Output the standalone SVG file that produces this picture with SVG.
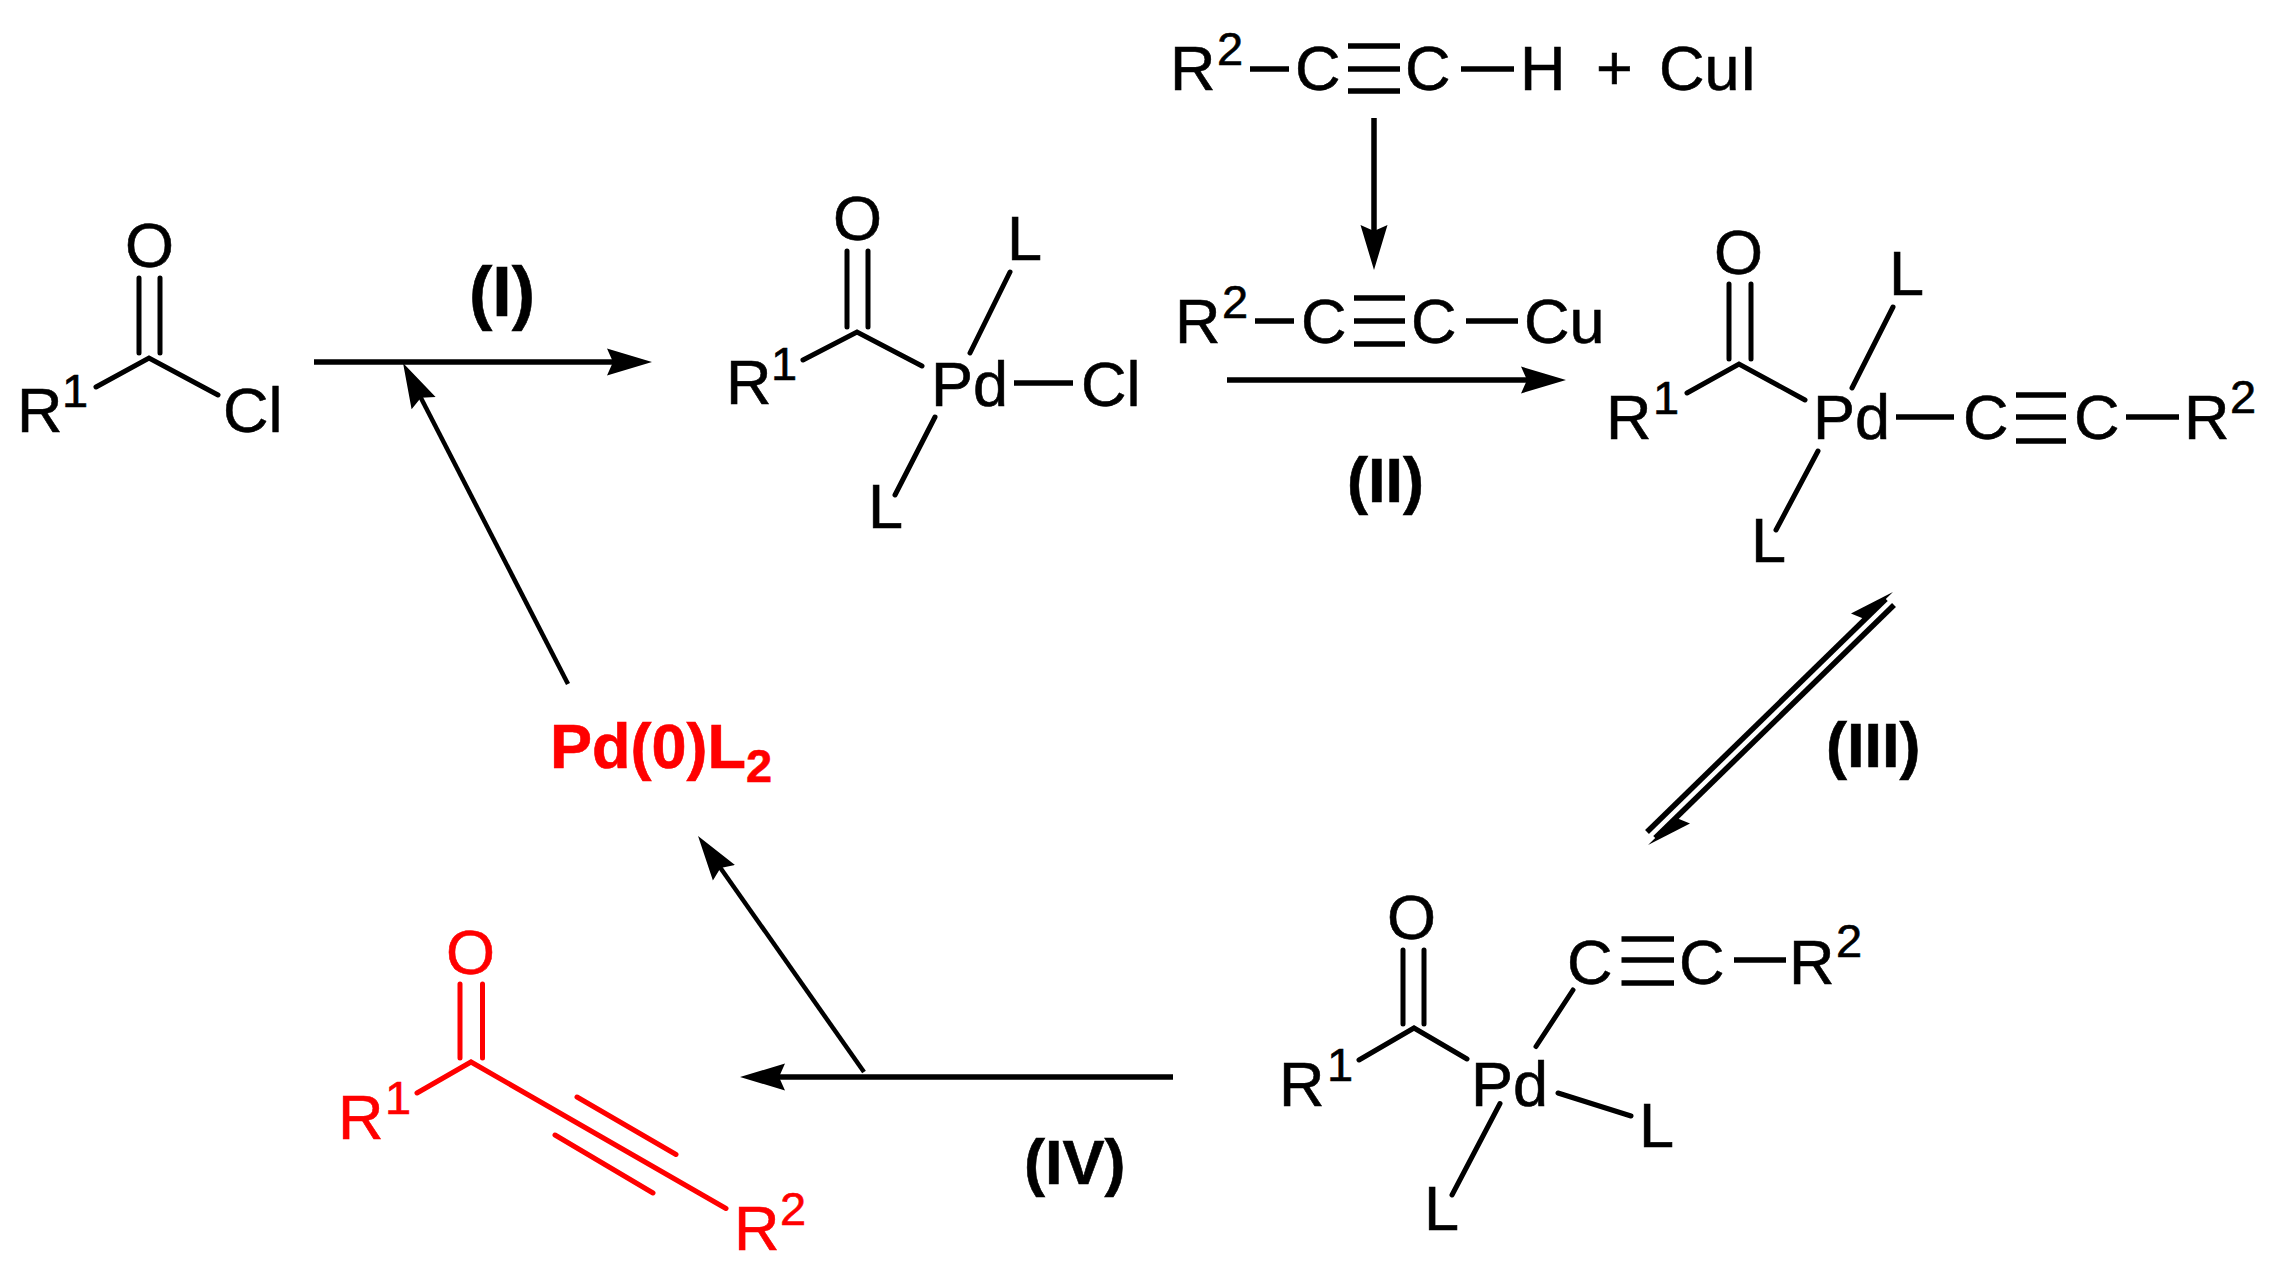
<svg xmlns="http://www.w3.org/2000/svg" width="2270" height="1276" viewBox="0 0 2270 1276">
<style>
text{font-family:"Liberation Sans",Arial,sans-serif;font-size:63px;fill:#000;stroke:#000;stroke-width:.6}
.s{font-size:47px}
.b{font-weight:bold}
.big{font-size:70px}
.red text{fill:#f00;stroke:#f00}
.bond{stroke:#000;stroke-width:5;stroke-linecap:round;fill:none}
.red .bond{stroke:#f00}
.hb{stroke-width:5.500;stroke-linecap:butt}
.arr{stroke:#000;stroke-width:5.500;fill:none}
.thin{stroke-width:4.500}
</style>
<defs>
<marker id="ah" markerUnits="userSpaceOnUse" markerWidth="50" markerHeight="30" refX="35" refY="15" orient="auto" viewBox="0 0 50 30"><path d="M45 15L0 1.500L6 15L0 28.500Z" fill="#000"/></marker>
<marker id="hh" markerUnits="userSpaceOnUse" markerWidth="50" markerHeight="30" refX="35" refY="15" orient="auto" viewBox="0 0 50 30"><path d="M45 15L0 1L6 15Z" fill="#000"/></marker>
</defs>
<g id="connectors">
<path class="arr" d="M314 362H642" marker-end="url(#ah)"/>
<path class="arr thin" d="M568 684L407.600 372" marker-end="url(#ah)"/>
<path class="arr" d="M1374 118V260" marker-end="url(#ah)"/>
<path class="arr" d="M1227 380H1556" marker-end="url(#ah)"/>
<path class="arr" d="M1647 832L1885.800 599" marker-end="url(#hh)"/>
<path class="arr" d="M1894 605L1655.200 838" marker-end="url(#hh)"/>
<path class="arr" d="M1173 1077H750" marker-end="url(#ah)"/>
<path class="arr thin" d="M864 1072L703.800 844.200" marker-end="url(#ah)"/>
</g>
<g id="acid-chloride">
<path class="bond" d="M96 387L149 358L218 395M139 278V353M160 278V353"/>
<text x="17" y="432">R</text><text class="s" x="62" y="407">1</text>
<text x="125" y="267">O</text><text x="223" y="432">Cl</text>
</g>
<g id="label-i"><text class="b big" x="469" y="316">(I)</text></g>
<g id="pd-chloride">
<path class="bond" d="M803 360L857 332L922 366M847 251V327M868 251V327M1010 272L970 353M935 417L895 495"/>
<path class="bond hb" d="M1014 383H1073"/>
<text x="726" y="404">R</text><text class="s" x="771" y="380">1</text>
<text x="833" y="240">O</text><text x="1007" y="260">L</text>
<text x="931" y="406">Pd</text><text x="1081" y="406">Cl</text><text x="868" y="528">L</text>
</g>
<g id="alkyne">
<path class="bond hb" d="M1250 69H1289M1348 46H1400M1348 69H1400M1348 91H1400M1461 69H1514"/>
<text x="1170" y="90">R</text><text class="s" x="1217" y="65">2</text>
<text x="1295" y="90">C</text><text x="1405" y="90">C</text><text x="1520" y="90">H</text>
<text x="1596" y="90">+</text><text x="1659" y="90">CuI</text>
</g>
<g id="copper-acetylide">
<path class="bond hb" d="M1255 321H1294M1354 298H1405M1354 321H1405M1354 344H1405M1466 321H1518"/>
<text x="1175" y="343">R</text><text class="s" x="1222" y="318">2</text>
<text x="1301" y="343">C</text><text x="1411" y="343">C</text><text x="1524" y="343">Cu</text>
</g>
<g id="label-ii"><text class="b" x="1347" y="502">(II)</text></g>
<g id="pd-alkynyl-trans">
<path class="bond" d="M1687 393L1739 364L1805 400M1729 284V359M1751 284V359M1893 307L1852 388M1818 451L1776 530"/>
<path class="bond hb" d="M1896 417H1954M2016 395H2066M2016 417H2066M2016 441H2066M2126 417H2179"/>
<text x="1606" y="439">R</text><text class="s" x="1653" y="414">1</text>
<text x="1714" y="274">O</text><text x="1889" y="295">L</text>
<text x="1813" y="439">Pd</text><text x="1963" y="439">C</text><text x="2074" y="439">C</text>
<text x="2184" y="439">R</text><text class="s" x="2230" y="413">2</text><text x="1751" y="562">L</text>
</g>
<g id="label-iii"><text class="b" x="1826" y="767">(III)</text></g>
<g id="pd-alkynyl-cis">
<path class="bond" d="M1359 1060L1414 1028L1467 1059M1403 950V1024M1424 950V1024M1573 990L1536 1046.500M1558 1093L1631 1116M1500 1103.500L1452 1195"/>
<path class="bond hb" d="M1621.500 939H1674M1621.500 960H1674M1621.500 983H1674M1734 960H1786"/>
<text x="1279" y="1106">R</text><text class="s" x="1327" y="1081">1</text>
<text x="1387" y="939">O</text><text x="1471" y="1106">Pd</text>
<text x="1567" y="984">C</text><text x="1679" y="984">C</text>
<text x="1789" y="984">R</text><text class="s" x="1836" y="957">2</text>
<text x="1639" y="1147">L</text><text x="1424" y="1230">L</text>
</g>
<g id="label-iv"><text class="b" x="1024" y="1184">(IV)</text></g>
<g id="pd0" class="red">
<text class="b" x="550" y="768">Pd(0)L</text><text class="b s" x="746" y="782">2</text>
</g>
<g id="ynone" class="red">
<path class="bond" d="M417 1093L471 1062L726 1208.500M460 984V1058M482.500 984V1058M577 1097L676 1154.500M555 1135L653 1193"/>
<text x="338" y="1139">R</text><text class="s" x="385" y="1114">1</text>
<text x="446" y="974">O</text><text x="734" y="1250">R</text><text class="s" x="780" y="1225">2</text>
</g>
</svg>
